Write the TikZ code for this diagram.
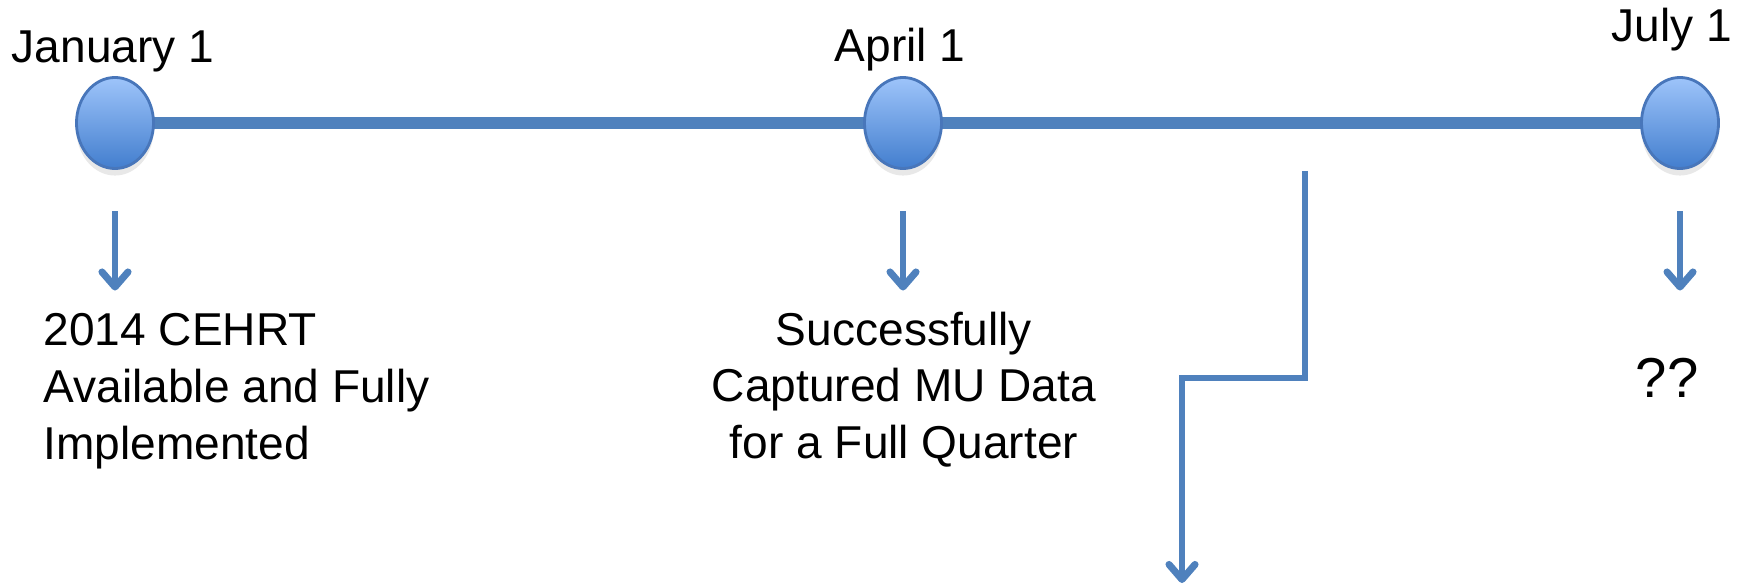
\documentclass[tikz,border=0pt]{standalone}
\usepackage{fontspec}
\setmainfont{Liberation Sans}
\usetikzlibrary{shapes.geometric,arrows.meta,backgrounds,shadows}
\definecolor{lineblue}{RGB}{79,129,189}
\definecolor{circtop}{RGB}{158,196,250}
\definecolor{circbot}{RGB}{66,126,206}
\definecolor{circedge}{RGB}{72,118,186}

\begin{document}
\begin{tikzpicture}[
		x=0.01cm, y=-0.01cm,
		font=\fontsize{13.1}{16.1}\selectfont,
		milestone/.style={
			ellipse, draw=circedge, line width=0.8pt,
			top color=circtop, bottom color=circbot,
			minimum width=0.77cm, minimum height=0.91cm, inner sep=0,
			drop shadow={opacity=0.18, shadow xshift=0pt, shadow yshift=-2pt}
		},
		date/.style={inner sep=0, anchor=base},
		note/.style={inner sep=0},
		timeline/.style={draw=lineblue, line width=0.12cm},
		pointer/.style={draw=lineblue, line width=0.055cm,
			-{Straight Barb[length=0.15cm,width=0.26cm,line width=2pt,round]}},
		]
		\useasboundingbox (0,0) rectangle (1748,585);
		% milestones
		\node[milestone] (jan) at (115,123) {};
		\node[milestone] (apr) at (903,123) {};
		\node[milestone] (jul) at (1680,123) {};
		\begin{scope}[on background layer]
			\draw[timeline] (jan.center) -- (jul.center);
		\end{scope}
		% dates
		\node[date] (jandate) at (113,63) {January 1};
		\node[date] (aprdate) at (900,62) {April 1};
		\node[date] (juldate) at (1672,42) {July 1};
		% notes
		\node[note, align=left, anchor=north west] (janlbl) at (43,313) {2014 CEHRT\\Available and Fully\\Implemented};
		\node[note, align=center, anchor=north] (aprlbl) at (904,311) {Successfully\\Captured MU Data\\for a Full Quarter};
		\node[note, anchor=base, font=\fontsize{16}{19}\selectfont] (julq) at (1667,397) {??};
		% short arrows
		\foreach \m in {jan,apr,jul}
			\draw[pointer] ([yshift=-0.415cm]\m.south) -- +(0,-0.79cm);
		% step arrow
		\coordinate (zzstart) at (1305,171);
		\coordinate (zzend) at (1182,583);
		\draw[pointer, line width=0.065cm] (zzstart) -- ++(0,207) -| (zzend);
\end{tikzpicture}
\end{document}
